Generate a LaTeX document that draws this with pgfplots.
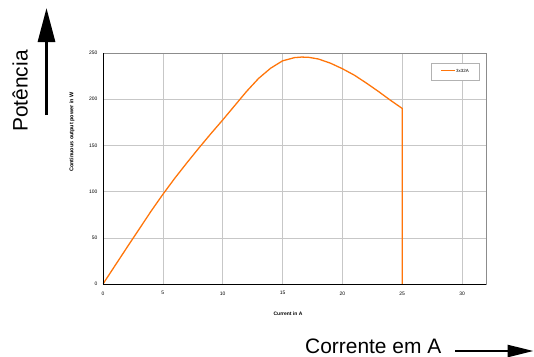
\documentclass[border=0pt]{standalone}
\usepackage{pgfplots}
\pgfplotsset{compat=1.18}
\usepackage{fontspec}
\setmainfont{Liberation Sans}
\usetikzlibrary{arrows.meta}
\definecolor{myorange}{RGB}{255,117,10}
\begin{document}
\begin{tikzpicture}[x=1bp,y=1bp]
\useasboundingbox (-103,-72) rectangle (431,284);
\begin{axis}[
  at={(0,0)}, anchor=south west,
  scale only axis, width=383bp, height=231bp,
  xmin=0, xmax=32, ymin=0, ymax=250,
  xtick={0,5,...,30}, ytick={0,50,...,250},
  major tick length=0pt,
  grid=major, grid style={draw=black!22, line width=0.6pt},
  axis line style={draw=black!45, line width=0.6pt},
  /pgf/number format/assume math mode=true,
  tick label style={font=\fontsize{5}{6}\selectfont},
  xticklabel style={yshift=-4bp},
  yticklabel style={xshift=-2bp},
  legend style={draw=black!30, font=\fontsize{4.5}{5}\selectfont,
    at={(0.982,0.957)}, anchor=north east, inner xsep=8bp, inner ysep=4bp},
  legend image code/.code={},
]
\addplot[color=myorange, line width=1.3pt, line join=round] coordinates {
(0,0) (1,19.8) (2,39.5) (3,59) (4,78.5) (5,97) (6,114.5) (7,131) (8,147)
(9,162.5) (10,177.5) (11,193) (12,208.5) (13,222.5) (14,233.5) (15,241.5) (16,245)
(16.6,245.6) (17.2,245.3) (18,243.5) (19,239) (20,233) (21,226) (22,217.5) (23,208.5)
(24,199) (25,190) (25,0)};
\addlegendentry{\textcolor{myorange}{\rule[1.1bp]{14bp}{1.4bp}}\hspace{1bp}3x32A}
\draw[black, line width=1pt] (rel axis cs:0,1) -- (rel axis cs:0,0) -- (rel axis cs:1,0);
\end{axis}
\node[rotate=90, font=\bfseries\fontsize{5.5}{6}\selectfont, inner sep=0] at (-31,152) {Continuous output power in W};
\node[font=\bfseries\fontsize{5}{6}\selectfont, inner sep=0] at (185,-30) {Current in A};
\node[rotate=90, font=\fontsize{21}{24}\selectfont, inner sep=0] at (-83,193) {Potência};
\draw[line width=3bp, -{Triangle[length=34bp,width=17bp]}] (-56.5,169) -- (-56.5,276);
\node[font=\fontsize{21}{24}\selectfont, inner sep=0, anchor=base west] at (202,-69) {Corrente em A};
\draw[line width=2.5bp, -{Triangle[length=26bp,width=12bp]}] (352,-67) -- (430.5,-67);
\end{tikzpicture}
\end{document}
